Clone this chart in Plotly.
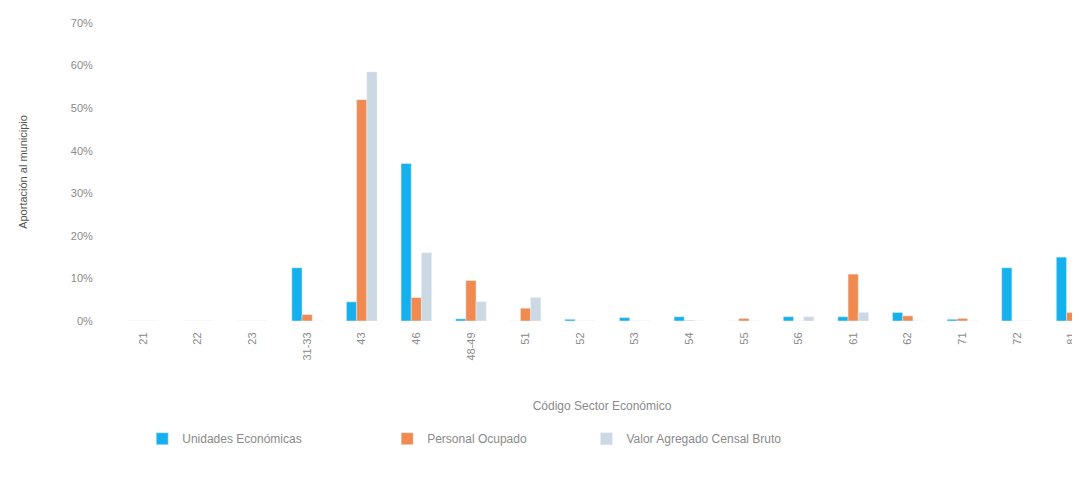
import plotly.graph_objects as go

categories = ["21", "22", "23", "31-33", "43", "46", "48-49", "51", "52", "53",
              "54", "55", "56", "61", "62", "71", "72", "81"]
unidades = [0.0, 0.0, 0.0, 12.5, 4.5, 37.0, 0.5, 0.0, 0.4, 0.8,
            1.0, 0.0, 1.0, 1.0, 2.0, 0.4, 12.5, 15.0]
personal = [0.0, 0.0, 0.0, 1.5, 52.0, 5.5, 9.5, 3.0, 0.0, 0.0,
            0.1, 0.6, 0.0, 11.0, 1.2, 0.6, 0.0, 2.0]
valor = [0.0, 0.0, 0.0, 0.0, 58.5, 16.0, 4.5, 5.5, 0.0, 0.0,
         0.0, 0.0, 1.0, 2.0, 0.0, 0.0, 0.0, 0.0]
y_ticks = [0, 10, 20, 30, 40, 50, 60, 70]
y_tick_text = [f"{v}%" for v in y_ticks]

fig = go.Figure()
fig.add_trace(go.Bar(x=categories, y=unidades, name="Unidades Económicas",
                     marker_color="#14B1EE", legend="legend"))
fig.add_trace(go.Bar(x=categories, y=personal, name="Personal Ocupado",
                     marker_color="#F08A50", legend="legend2"))
fig.add_trace(go.Bar(x=categories, y=valor, name="Valor Agregado Censal Bruto",
                     marker_color="#CCD8E4", legend="legend3"))

leg_common = dict(orientation="h", yanchor="middle", y=-0.395, xanchor="left",
                  font=dict(size=12, color="#8a8a8a"), itemwidth=30,
                  bgcolor="rgba(0,0,0,0)")

fig.update_layout(
    width=1080, height=480,
    margin=dict(l=108, r=0, t=15, b=167),
    paper_bgcolor="white", plot_bgcolor="white",
    barmode="group", bargap=0.44, bargroupgap=0,
    font=dict(family="Liberation Sans, Arial, sans-serif", size=10, color="#8a8a8a"),
    legend=dict(x=0.027, **leg_common),
    legend2=dict(x=0.279, **leg_common),
    legend3=dict(x=0.484, **leg_common),
    showlegend=True,
)
fig.update_xaxes(
    type="category", range=[-0.5, 17.3], tickangle=-90, showgrid=False,
    showline=False, ticks="outside", ticklen=6, tickcolor="rgba(0,0,0,0)",
    tickfont=dict(size=11, color="#8a8a8a"),
    title=dict(text="Código Sector Económico", font=dict(size=12, color="#8a8a8a"), standoff=42),
)
fig.update_yaxes(
    range=[0, 70], tickvals=y_ticks, ticktext=y_tick_text, showgrid=False, zeroline=False,
    showline=False, ticks="outside", ticklen=20, tickcolor="rgba(0,0,0,0)",
    tickfont=dict(size=11, color="#8a8a8a"),
    title=dict(text="Aportación al municipio", font=dict(size=11, color="#555555"), standoff=40),
)

fig.write_html("out.html")
